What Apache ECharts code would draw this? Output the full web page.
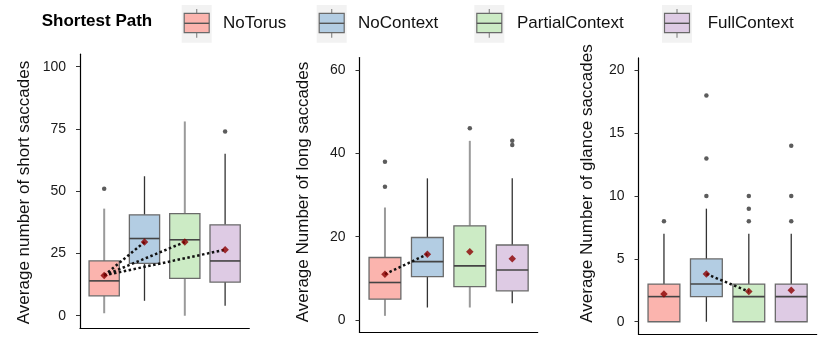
<!DOCTYPE html>
<html><head><meta charset="utf-8">
<script src="https://cdn.jsdelivr.net/npm/echarts@6/dist/echarts.min.js"></script>
<style>html,body{margin:0;padding:0;background:#fff}#c{width:830px;height:345px}</style>
</head><body><div id="c"></div>
<script>
// ---------- data ----------
const legendTitle = 'Shortest Path';
const categories = ['NoTorus', 'NoContext', 'PartialContext', 'FullContext'];

const shortTitle = 'Average number of short saccades';
const shortTicks = [0, 25, 50, 75, 100];
const shortLow = [1, 6, 0, 4];
const shortQ1 = [8, 21, 15, 13.5];
const shortMedian = [14, 31, 30.5, 22];
const shortQ3 = [22, 40.5, 41, 36.5];
const shortHigh = [43, 56, 78, 65];
const shortMean = [16.2, 29.6, 29.6, 26.5];
const shortOutliers = [[51], [], [], [74]];
const shortPairs = [[0, 1], [0, 2], [0, 3]];

const longTitle = 'Average Number of long saccades';
const longTicks = [0, 20, 40, 60];
const longLow = [1, 3, 3, 4];
const longQ1 = [5, 10.4, 8, 7];
const longMedian = [9, 14, 13, 12];
const longQ3 = [15, 19.8, 22.6, 18];
const longHigh = [27, 34, 43, 34];
const longMean = [11, 15.8, 16.4, 14.7];
const longOutliers = [[32, 38], [], [46], [42, 43]];
const longPairs = [[0, 1]];

const glanceTitle = 'Average Number of glance saccades';
const glanceTicks = [0, 5, 10, 15, 20];
const glanceLow = [0, 0, 0, 0];
const glanceQ1 = [0, 2, 0, 0];
const glanceMedian = [2, 3, 2, 2];
const glanceQ3 = [3, 5, 3, 3];
const glanceHigh = [7, 9, 7, 7];
const glanceMean = [2.2, 3.8, 2.4, 2.5];
const glanceOutliers = [[8], [10, 13, 18], [8, 9, 10], [8, 10, 14]];
const glancePairs = [[1, 2]];

// ---------- styles / layout ----------
const fillColors = ['#FBB4AE', '#B3CDE3', '#CCEBC5', '#DECBE4'];
const FONT = '"Liberation Sans", Arial, Helvetica, sans-serif';

const panels = [
  {title: shortTitle, ticks: shortTicks, low: shortLow, q1: shortQ1, med: shortMedian, q3: shortQ3, high: shortHigh, mean: shortMean, out: shortOutliers, pairs: shortPairs},
  {title: longTitle, ticks: longTicks, low: longLow, q1: longQ1, med: longMedian, q3: longQ3, high: longHigh, mean: longMean, out: longOutliers, pairs: longPairs},
  {title: glanceTitle, ticks: glanceTicks, low: glanceLow, q1: glanceQ1, med: glanceMedian, q3: glanceQ3, high: glanceHigh, mean: glanceMean, out: glanceOutliers, pairs: glancePairs}
];
const GRAY = {c: '#9a9a9a', w: 2}, DARK = {c: '#333', w: 1.3};
const layout = [
  {left: 80, top: 54.2, width: 169.3, height: 274, titleX: 24, titleY: 192.5, whisker: [GRAY, DARK, GRAY, DARK]},
  {left: 359.5, top: 57.5, width: 178.2, height: 275, titleX: 303.5, titleY: 192, whisker: [GRAY, DARK, GRAY, DARK]},
  {left: 638.5, top: 57.9, width: 178.2, height: 276.4, titleX: 587, titleY: 183.5, whisker: [DARK, DARK, DARK, DARK]}
];
const legendBgX = [181.7, 316.7, 474.3, 662];
const legendTextX = [223, 358, 517, 707.7];

// ---------- build ----------
const grid = [], xAxis = [], yAxis = [], series = [], graphic = [];

panels.forEach((p, k) => {
  const L = layout[k];
  const span = p.ticks[p.ticks.length - 1] - p.ticks[0];
  grid.push({left: L.left, top: L.top, width: L.width, height: L.height, containLabel: false});
  xAxis.push({
    type: 'value', gridIndex: k, min: 0.4, max: categories.length + 0.6,
    axisLine: {show: true, onZero: false, lineStyle: {color: '#000', width: 1.2}},
    axisTick: {show: false}, axisLabel: {show: false}, splitLine: {show: false}
  });
  yAxis.push({
    type: 'value', gridIndex: k,
    min: p.ticks[0] - 0.05 * span, max: p.ticks[p.ticks.length - 1] + 0.05 * span,
    axisLine: {show: true, lineStyle: {color: '#000', width: 1.2}},
    axisTick: {show: true, length: 4, customValues: p.ticks, lineStyle: {color: '#333', width: 1}},
    axisLabel: {show: true, customValues: p.ticks, fontSize: 14, color: '#1a1a1a', fontFamily: FONT, margin: 14},
    splitLine: {show: false}
  });

  const whisk = L.whisker;
  series.push({
    type: 'custom', xAxisIndex: k, yAxisIndex: k, z: 2,
    encode: {x: 0, y: [1, 2, 3, 4, 5]},
    data: categories.map((c, i) => [i + 1, p.low[i], p.q1[i], p.med[i], p.q3[i], p.high[i]]),
    renderItem: function (params, api) {
      const i = params.dataIndex;
      const x = api.value(0);
      const pLo = api.coord([x, api.value(1)]);
      const pQ1 = api.coord([x, api.value(2)]);
      const pMed = api.coord([x, api.value(3)]);
      const pQ3 = api.coord([x, api.value(4)]);
      const pHi = api.coord([x, api.value(5)]);
      const hw = api.size([0.75, 0])[0] / 2;
      const cx = pQ1[0];
      const ws = {stroke: whisk[i].c, lineWidth: whisk[i].w};
      return {
        type: 'group',
        children: [
          {type: 'line', shape: {x1: cx, y1: pQ3[1], x2: cx, y2: pHi[1]}, style: ws},
          {type: 'line', shape: {x1: cx, y1: pQ1[1], x2: cx, y2: pLo[1]}, style: ws},
          {type: 'rect', shape: {x: cx - hw, y: pQ3[1], width: 2 * hw, height: pQ1[1] - pQ3[1]},
            style: {fill: fillColors[i], stroke: '#6a6a6a', lineWidth: 1.3}},
          {type: 'line', shape: {x1: cx - hw, y1: pMed[1], x2: cx + hw, y2: pMed[1]}, style: {stroke: '#444', lineWidth: 1.6}}
        ]
      };
    }
  });

  const outData = [];
  p.out.forEach((arr, i) => arr.forEach(v => outData.push([i + 1, v])));
  series.push({
    type: 'scatter', xAxisIndex: k, yAxisIndex: k, z: 3, symbol: 'circle', symbolSize: 4.5,
    itemStyle: {color: '#333'}, data: outData, silent: true
  });

  p.pairs.forEach(pr => {
    series.push({
      type: 'line', xAxisIndex: k, yAxisIndex: k, z: 4, symbol: 'none', silent: true,
      lineStyle: {color: '#111', width: 2.5, type: [2.5, 2.5], cap: 'butt'},
      data: [[pr[0] + 1, p.mean[pr[0]]], [pr[1] + 1, p.mean[pr[1]]]]
    });
  });

  series.push({
    type: 'scatter', xAxisIndex: k, yAxisIndex: k, z: 5, symbol: 'diamond', symbolSize: [7.5, 7.5],
    itemStyle: {color: '#8B0000'}, data: categories.map((c, i) => [i + 1, p.mean[i]]), silent: true
  });

  graphic.push({
    type: 'text', x: L.titleX, y: L.titleY, rotation: Math.PI / 2,
    style: {text: p.title, font: '17px ' + FONT, fill: '#111', textAlign: 'center', textVerticalAlign: 'middle'}
  });
});

// legend
graphic.push({
  type: 'text', x: 41.7, y: 21,
  style: {text: legendTitle, font: 'bold 17px ' + FONT, fill: '#000', textAlign: 'left', textVerticalAlign: 'middle'}
});
categories.forEach((c, i) => {
  const bx = legendBgX[i];
  graphic.push({type: 'rect', shape: {x: bx, y: 5, width: 30, height: 37.7}, style: {fill: '#f2f2f2'}});
  graphic.push({type: 'line', shape: {x1: bx + 15, y1: 9, x2: bx + 15, y2: 37.7}, style: {stroke: '#8a8a8a', lineWidth: 1.2}});
  graphic.push({type: 'rect', shape: {x: bx + 2.5, y: 13.3, width: 25, height: 19.4}, style: {fill: fillColors[i], stroke: '#6a6a6a', lineWidth: 1.2}});
  graphic.push({type: 'line', shape: {x1: bx + 2.5, y1: 23.3, x2: bx + 27.5, y2: 23.3}, style: {stroke: '#555', lineWidth: 1.4}});
  graphic.push({
    type: 'text', x: legendTextX[i], y: 23,
    style: {text: c, font: '17px ' + FONT, fill: '#111', textAlign: 'left', textVerticalAlign: 'middle'}
  });
});

const chart = echarts.init(document.getElementById('c'), null, {renderer: 'canvas'});
chart.setOption({
  animation: false,
  backgroundColor: '#fff',
  grid, xAxis, yAxis, series, graphic
});
</script></body></html>
